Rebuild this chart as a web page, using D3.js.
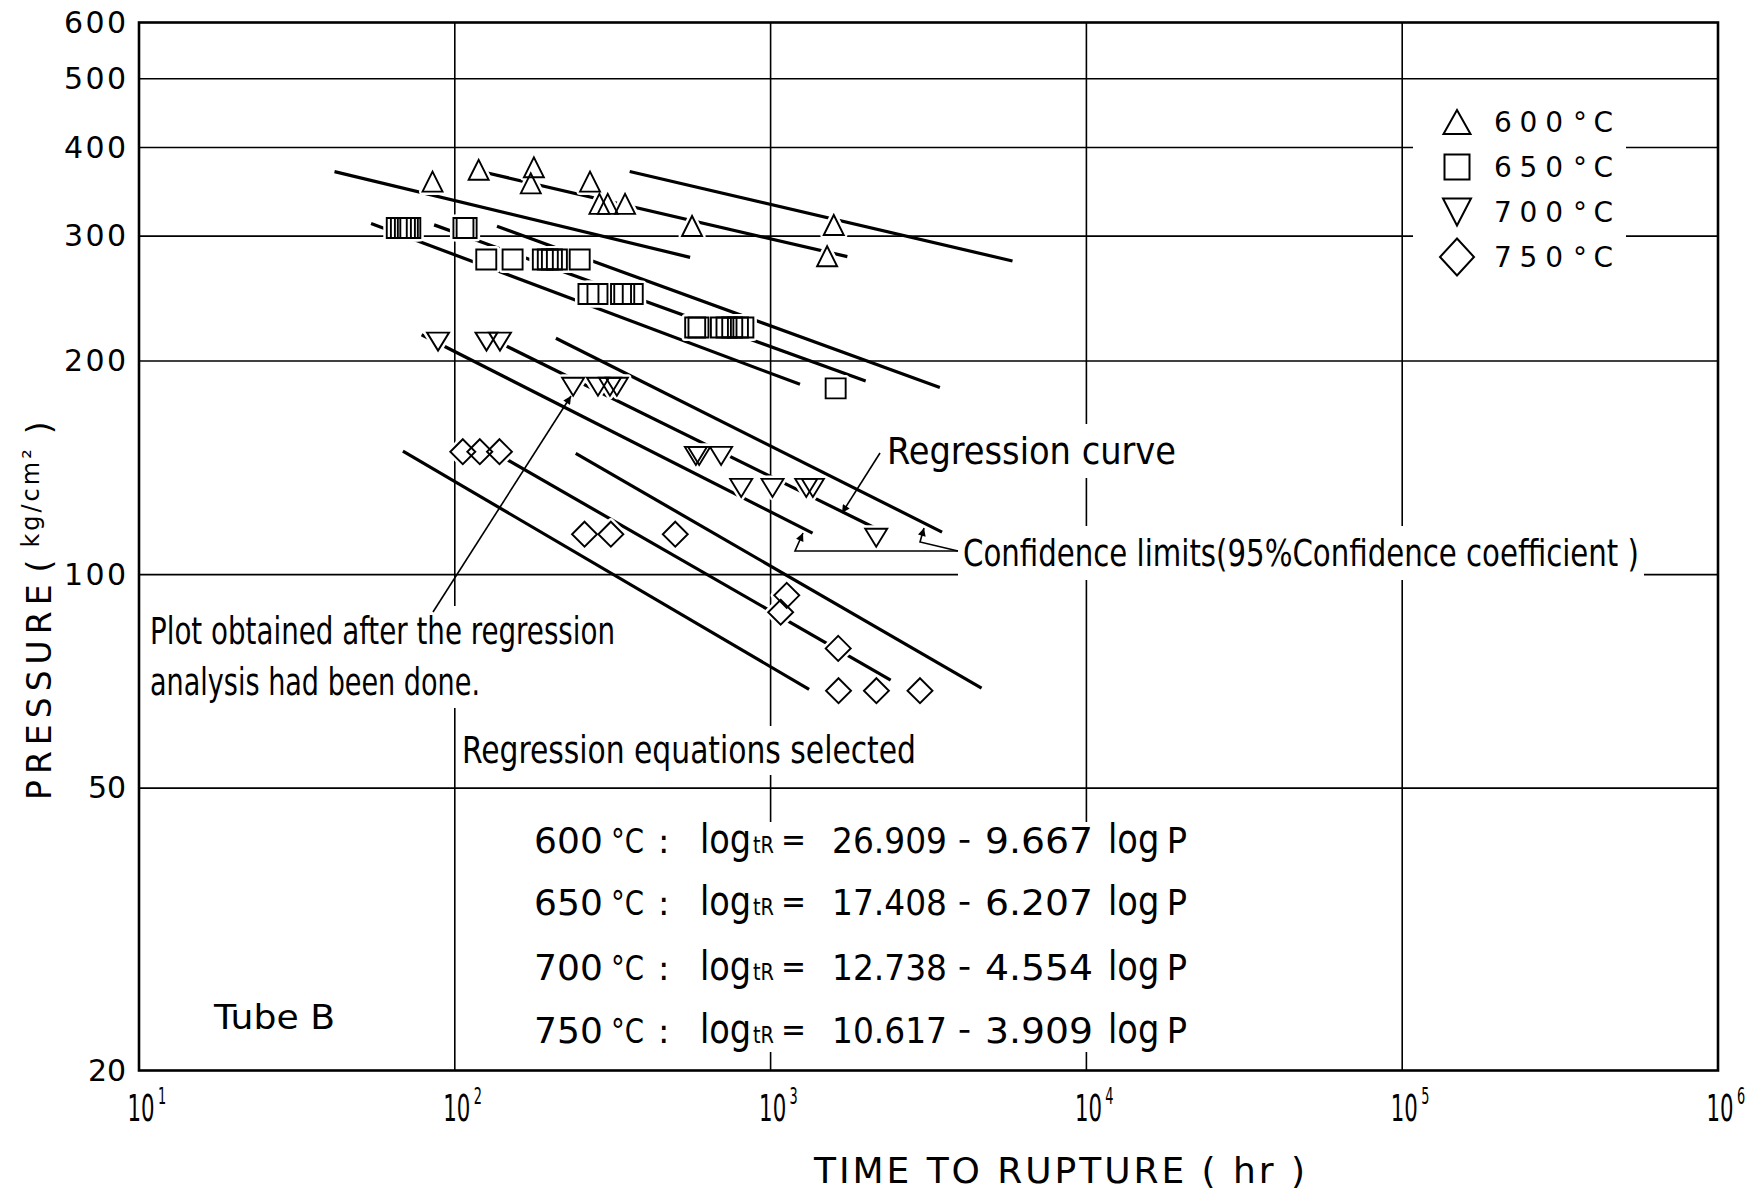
<!DOCTYPE html>
<html>
<head>
<meta charset="utf-8">
<script src="https://cdn.jsdelivr.net/npm/d3@7"></script>
<style>
  html, body { margin: 0; padding: 0; background: #fff; }
  svg { display: block; }
</style>
</head>
<body>
<svg id="chart" width="1754" height="1190"></svg>
<script>
// ---------------- data ----------------
const temperatures = ["600", "650", "700", "750"];
// regression equations: log tR = a - b log P
const intercepts = [26.909, 17.408, 12.738, 10.617];
const slopes = [9.667, 6.207, 4.554, 3.909];
// time span (hr) over which each regression curve is drawn
const regressionSpan = [[123, 1750], [86, 2000], [140, 2150], [140, 2400]];
// 95% confidence limits, [time (hr), pressure (kg/cm2)] at both ends
const lowerLimits = [
  [[41.6, 369.8], [556, 280]],
  [[54.3, 312.6], [1239, 185.4]],
  [[78.5, 217.8], [1358, 114.4]],
  [[68.5, 149.3], [1324, 68.9]]
];
const upperLimits = [
  [[358, 370], [5834, 276.7]],
  [[136, 309.7], [3436, 183.5]],
  [[209, 215.3], [3491, 114.8]],
  [[241.5, 148.2], [4656, 69.2]]
];
// rupture tests: [time to rupture (hr), pressure (kg/cm2)]
const tests600 = [[85, 358], [119, 372], [178, 375], [174, 356], [268, 358], [287, 333],
  [305, 333], [346, 333], [564, 310], [1585, 311], [1510, 281]];
const tests650 = [[65.5, 308], [67.5, 308], [69.5, 308], [71, 308], [72.3, 308],
  [106.5, 308], [109, 308],
  [125.8, 278], [152.4, 278], [190, 278], [197, 278], [203, 278], [210.5, 278], [248.6, 278],
  [265, 248.6], [283, 248.6], [336, 248.6], [344, 248.6], [366, 248.6],
  [577, 223], [591, 223], [696, 223], [725, 223], [756, 223], [788, 223], [820, 223],
  [1607, 183]];
const tests700 = [[88.5, 213], [126, 213], [139, 213], [237, 184], [284, 184], [310, 184],
  [326, 184], [580, 147], [594, 147], [697, 147], [807, 132.5], [1014, 132.5], [1297, 132.5],
  [1361, 132.5], [2160, 112.7]];
const tests750 = [[106, 149], [120, 149], [138.5, 149], [257.5, 114], [312, 114], [499, 114],
  [1125, 93.5], [1076, 88.5], [1637, 78.7], [1641, 68.6], [2163, 68.6], [2972, 68.6]];
const series = [tests600, tests650, tests700, tests750];

const xTicks = [10, 1e2, 1e3, 1e4, 1e5, 1e6];
const xGrid = [1e2, 1e3, 1e4, 1e5];
const yTicks = [20, 50, 100, 200, 300, 400, 500, 600];
const yGrid = [50, 100, 200, 300, 400, 500];

// ---------------- setup ----------------
const FONT_GEO = "'DejaVu Sans', 'Liberation Sans', sans-serif";
const FONT_NARROW = "'Liberation Sans Narrow', 'DejaVu Sans Condensed', 'Liberation Sans', 'DejaVu Sans', sans-serif";

const svg = d3.select('#chart');
const x = d3.scaleLog().domain([10, 1e6]).range([139, 1718]);
const y = d3.scaleLog().domain([20, 600]).range([1070.5, 22.5]);

const defs = svg.append('defs');
defs.append('marker').attr('id', 'arrowHead')
  .attr('viewBox', '0 0 10 10').attr('refX', 10).attr('refY', 5)
  .attr('markerUnits', 'userSpaceOnUse').attr('markerWidth', 11).attr('markerHeight', 8)
  .attr('orient', 'auto')
  .append('path').attr('d', 'M0,0L10,5L0,10Z').attr('fill', '#000');

function txt(parent, s, px, py, size, len, family, adjust) {
  const t = parent.append('text').attr('x', px).attr('y', py)
    .attr('font-size', size).attr('font-family', family || FONT_NARROW)
    .attr('fill', '#000').text(s);
  if (len) t.attr('textLength', len).attr('lengthAdjust', adjust || 'spacingAndGlyphs');
  return t;
}

// ---------------- grid ----------------
const grid = svg.append('g').attr('stroke', '#000').attr('stroke-width', 1.6);
grid.selectAll('line.v').data(xGrid).join('line').attr('class', 'v')
  .attr('x1', d => x(d)).attr('x2', d => x(d)).attr('y1', y(600)).attr('y2', y(20));
grid.selectAll('line.h').data(yGrid).join('line').attr('class', 'h')
  .attr('x1', x(10)).attr('x2', x(1e6)).attr('y1', d => y(d)).attr('y2', d => y(d));

// ---------------- regression curves and confidence limits ----------------
const line = d3.line().x(d => x(d[0])).y(d => y(d[1]));
const curves = svg.append('g').attr('stroke', '#000').attr('stroke-width', 3.2)
  .attr('fill', 'none');
temperatures.forEach((T, i) => {
  const a = intercepts[i], b = slopes[i];
  const pressureAt = t => Math.pow(10, (a - Math.log10(t)) / b);
  curves.append('path').attr('d', line(regressionSpan[i].map(t => [t, pressureAt(t)])));
  curves.append('path').attr('d', line(lowerLimits[i]));
  curves.append('path').attr('d', line(upperLimits[i]));
});

// ---------------- text blocks (white backing breaks the grid) ----------------
const notes = svg.append('g');
function boxed(build, pad) {
  const g = notes.append('g');
  const bg = g.append('rect').attr('fill', '#fff');
  build(g);
  const bb = g.node().getBBox();
  const p = pad == null ? 5 : pad;
  bg.attr('x', bb.x - p).attr('y', bb.y - p).attr('width', bb.width + 2 * p)
    .attr('height', bb.height + 2 * p);
  return g;
}

boxed(g => {
  txt(g, 'Plot obtained after the regression', 150, 644, 37, 465);
  txt(g, 'analysis had been done.', 150, 695, 37, 330);
}, 4);
boxed(g => txt(g, 'Regression equations selected', 462, 763, 37, 454), 3);
boxed(g => txt(g, 'Regression curve', 887, 464, 38, 289), 5);
boxed(g => txt(g, 'Confidence limits(95%Confidence coefficient )', 963, 566, 38, 676), 5);

// regression equations table
const eqBox = notes.append('g');
eqBox.append('rect').attr('x', 520).attr('y', 822).attr('width', 680).attr('height', 230)
  .attr('fill', '#fff');
const rowBase = [853, 915, 980, 1043];
temperatures.forEach((T, i) => {
  const by = rowBase[i];
  txt(eqBox, T, 534, by, 36, 69, FONT_GEO, 'spacing');
  txt(eqBox, '°C', 611, by, 34, 33, FONT_NARROW);
  txt(eqBox, ':', 658, by, 34, null, FONT_GEO);
  // "log tR" with the small tR in one run
  const lhs = eqBox.append('text').attr('x', 700).attr('y', by)
    .attr('font-family', FONT_NARROW).attr('fill', '#000')
    .attr('textLength', 74).attr('lengthAdjust', 'spacingAndGlyphs');
  lhs.append('tspan').attr('font-size', 40).text('log');
  lhs.append('tspan').attr('font-size', 23).attr('dx', 2).text('tR');
  txt(eqBox, '=', 781, by - 2, 32, 25, FONT_GEO);
  txt(eqBox, intercepts[i].toFixed(3), 832, by, 36, 115, FONT_GEO);
  txt(eqBox, '−', 958, by - 1, 34, 13, FONT_GEO);
  txt(eqBox, slopes[i].toFixed(3), 985, by, 36, 108, FONT_GEO);
  const rhs = eqBox.append('text').attr('x', 1108).attr('y', by).attr('fill', '#000')
    .attr('textLength', 79).attr('lengthAdjust', 'spacingAndGlyphs');
  rhs.append('tspan').attr('font-family', FONT_NARROW).attr('font-size', 40).text('log');
  rhs.append('tspan').attr('font-family', FONT_GEO).attr('font-size', 36).attr('dx', 8).text('P');
});

txt(svg, 'Tube B', 214, 1029, 33, 121, FONT_GEO);

// ---------------- test points ----------------
const shapes = {
  up: (w, h) => `M${-w / 2},${h / 2}L0,${-h / 2}L${w / 2},${h / 2}Z`,
  square: (w, h) => `M${-w / 2},${-h / 2}h${w}v${h}h${-w}Z`,
  down: (w, h) => `M${-w / 2},${-h / 2}L${w / 2},${-h / 2}L0,${h / 2}Z`,
  diamond: (w, h) => `M0,${-h / 2}L${w / 2},0L0,${h / 2}L${-w / 2},0Z`
};
const plotSymbol = [
  { shape: 'up', w: 20, h: 20 }, { shape: 'square', w: 20, h: 20 },
  { shape: 'down', w: 22, h: 18 }, { shape: 'diamond', w: 25, h: 25 }
];
const legendSymbol = [
  { shape: 'up', w: 27, h: 24 }, { shape: 'square', w: 25, h: 25 },
  { shape: 'down', w: 28, h: 27 }, { shape: 'diamond', w: 34, h: 37 }
];

const halo = svg.append('g').attr('fill', '#fff').attr('stroke', '#fff').attr('stroke-width', 7)
  .attr('stroke-linejoin', 'round');
const marks = svg.append('g').attr('fill', 'none').attr('stroke', '#000').attr('stroke-width', 1.9);
series.forEach((pts, i) => {
  const s = plotSymbol[i];
  const d = shapes[s.shape](s.w, s.h);
  halo.selectAll(null).data(pts).join('path').attr('d', d)
    .attr('transform', p => `translate(${x(p[0])},${y(p[1])})`);
  marks.selectAll(null).data(pts).join('path').attr('d', d)
    .attr('transform', p => `translate(${x(p[0])},${y(p[1])})`);
});

// ---------------- annotation leaders ----------------
const leaders = svg.append('g').attr('stroke', '#000').attr('stroke-width', 1.6).attr('fill', 'none');
leaders.append('path').attr('d', 'M433,612L571,396').attr('marker-end', 'url(#arrowHead)');
leaders.append('path').attr('d', 'M880,453L842,513').attr('marker-end', 'url(#arrowHead)');
leaders.append('path').attr('d', 'M958,551L920,542L924,528').attr('marker-end', 'url(#arrowHead)');
leaders.append('path').attr('d', 'M958,551L795,551L803,533').attr('marker-end', 'url(#arrowHead)');

// ---------------- legend ----------------
const legend = svg.append('g');
legend.append('rect').attr('x', 1413).attr('y', 92).attr('width', 213).attr('height', 190)
  .attr('fill', '#fff');
temperatures.forEach((T, i) => {
  const cy = 122 + i * 45;
  const s = legendSymbol[i];
  legend.append('path').attr('d', shapes[s.shape](s.w, s.h))
    .attr('transform', `translate(1457,${cy})`)
    .attr('fill', '#fff').attr('stroke', '#000').attr('stroke-width', 2);
  txt(legend, T, 1494, cy + 10, 28, 69, FONT_GEO, 'spacing');
  txt(legend, '°C', 1573, cy + 10, 28, 40, FONT_GEO, 'spacing');
});

// ---------------- axes ----------------
const gx = svg.append('g').attr('transform', `translate(0,${y(20)})`)
  .call(d3.axisBottom(x).tickValues(xTicks).tickSize(0).tickFormat(''));
gx.select('.domain').remove();
gx.selectAll('.tick').each(function (d) {
  const g = d3.select(this);
  g.selectAll('text').remove();
  // power-of-ten label: narrow "10" with the exponent raised, in one text run
  const t = g.append('text').attr('transform', 'translate(-12,50) scale(0.56,1)')
    .attr('text-anchor', 'start').attr('font-family', FONT_GEO).attr('fill', '#000');
  t.append('tspan').attr('font-size', 38).text('10');
  t.append('tspan').attr('font-size', 23).attr('dx', 6).attr('dy', -17)
    .text(Math.round(Math.log10(d)));
});

const gy = svg.append('g').attr('transform', `translate(${x(10)},0)`)
  .call(d3.axisLeft(y).tickValues(yTicks).tickSize(0).tickPadding(13).tickFormat(d3.format('d')));
gy.select('.domain').remove();
gy.selectAll('.tick text')
  .attr('font-size', 30).attr('font-family', FONT_GEO).attr('fill', '#000')
  .attr('textLength', d => String(d).length === 3 ? 62 : 38)
  .attr('lengthAdjust', 'spacing');

// axis titles
txt(svg, 'TIME TO RUPTURE ( hr )', 814, 1183, 36, 491, FONT_GEO, 'spacing');
const yt = svg.append('g').attr('transform', 'translate(51,800) rotate(-90)');
const ytext = yt.append('text').attr('x', 0).attr('y', 0).attr('font-family', FONT_GEO)
  .attr('fill', '#000');
ytext.append('tspan').attr('font-size', 33).attr('letter-spacing', 6).text('PRESSURE');
ytext.append('tspan').attr('font-size', 33).attr('dx', 6).text('(');
ytext.append('tspan').attr('font-size', 24).attr('dx', 12).attr('dy', -12)
  .attr('letter-spacing', 3).text('kg/cm²');
ytext.append('tspan').attr('font-size', 33).attr('dx', 12).attr('dy', 12).text(')');

// ---------------- frame ----------------
svg.append('rect').attr('x', x(10)).attr('y', y(600))
  .attr('width', x(1e6) - x(10)).attr('height', y(20) - y(600))
  .attr('fill', 'none').attr('stroke', '#000').attr('stroke-width', 2.6);
</script>
</body>
</html>
